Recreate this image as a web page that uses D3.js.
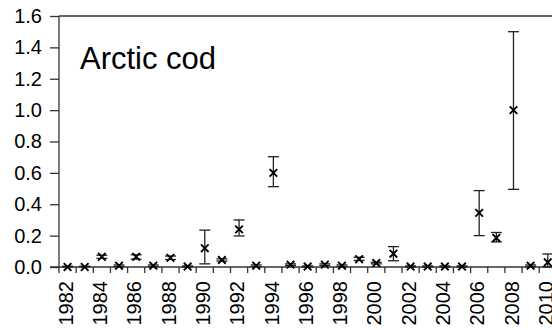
<!DOCTYPE html>
<html><head><meta charset="utf-8">
<script src="https://cdn.jsdelivr.net/npm/d3@7"></script>
<style>body{margin:0;background:#fff}svg{display:block}</style>
</head><body>
<svg id="c" width="552" height="330"></svg>
<script>
const years = d3.range(1982, 2011);
const values = [0, 0, 0.065, 0.008, 0.065, 0.008, 0.058, 0.003, 0.12, 0.045, 0.24, 0.008, 0.60, 0.015, 0.003, 0.015, 0.008, 0.05, 0.025, 0.085, 0.003, 0.003, 0.003, 0.003, 0.345, 0.185, 1.0, 0.008, 0.03];
const lower  = [0, 0, 0.055, 0.003, 0.05, 0.003, 0.048, 0, 0.02, 0.038, 0.198, 0.003, 0.512, 0.01, 0, 0.01, 0.003, 0.042, 0.02, 0.04, 0, 0, 0, 0, 0.2, 0.16, 0.495, 0.003, 0.0];
const upper  = [0.005, 0.005, 0.075, 0.013, 0.078, 0.013, 0.07, 0.007, 0.235, 0.052, 0.30, 0.013, 0.703, 0.02, 0.007, 0.02, 0.013, 0.062, 0.03, 0.13, 0.007, 0.007, 0.007, 0.007, 0.487, 0.22, 1.5, 0.013, 0.083];
const yTicks = [0, 0.2, 0.4, 0.6, 0.8, 1.0, 1.2, 1.4, 1.6];
const title = "Arctic cod";

const svg = d3.select("#c");
const font = "'Liberation Sans', Arial, Helvetica, sans-serif";
const axisColor = "#333";

const mLeft = 59, mTop = 16, mBottom = 267;
const bw = 17.15;
const x = d3.scaleBand().domain(years).range([mLeft, mLeft + years.length * bw]).padding(0);
const y = d3.scaleLinear().domain([0, 1.6]).range([mBottom, mTop]);

// y axis
const yAxis = d3.axisLeft(y).tickValues(yTicks).tickFormat(d3.format(".1f")).tickSize(9).tickPadding(8);
const gy = svg.append("g").attr("transform", `translate(${mLeft},0)`).call(yAxis);
gy.select(".domain").attr("stroke", axisColor).attr("stroke-width", 1.3).attr("d", `M0,${mTop}V${mBottom + 6}`);
gy.selectAll(".tick line").attr("stroke", axisColor).attr("stroke-width", 1.3);
gy.selectAll(".tick text").attr("font-family", font).attr("font-size", 20).attr("fill", "#000");

// top frame line
svg.append("line").attr("x1", mLeft).attr("x2", 552).attr("y1", y(1.6)).attr("y2", y(1.6))
  .attr("stroke", axisColor).attr("stroke-width", 1.3);

// x axis line
svg.append("line").attr("x1", mLeft - 9).attr("x2", 552).attr("y1", mBottom).attr("y2", mBottom)
  .attr("stroke", axisColor).attr("stroke-width", 1.3);

// x ticks at band boundaries
svg.append("g").selectAll("line").data(years.slice(1)).join("line")
  .attr("x1", d => x(d)).attr("x2", d => x(d))
  .attr("y1", mBottom).attr("y2", mBottom + 6)
  .attr("stroke", axisColor).attr("stroke-width", 1.3);

// x labels (every other year)
svg.append("g").selectAll("text").data(years.filter(d => d % 2 === 0)).join("text")
  .attr("transform", d => `translate(${x(d) + x.bandwidth() / 2 - 2},${mBottom + 14}) rotate(-90)`)
  .attr("text-anchor", "end").attr("dy", "0.36em")
  .attr("font-family", font).attr("font-size", 20).attr("fill", "#000")
  .text(d => d);

// error bars
const data = years.map((yr, i) => ({yr, v: values[i], lo: lower[i], hi: upper[i]}));
const cx = d => x(d.yr) + x.bandwidth() / 2;
const cap = 5.5;
const eb = svg.append("g").attr("stroke", "#222").attr("stroke-width", 1.3);
eb.selectAll(".v").data(data).join("line").attr("class", "v")
  .attr("x1", cx).attr("x2", cx).attr("y1", d => y(d.lo)).attr("y2", d => y(d.hi));
eb.selectAll(".t").data(data).join("line").attr("class", "t")
  .attr("x1", d => cx(d) - cap).attr("x2", d => cx(d) + cap).attr("y1", d => y(d.hi)).attr("y2", d => y(d.hi));
eb.selectAll(".b").data(data).join("line").attr("class", "b")
  .attr("x1", d => cx(d) - cap).attr("x2", d => cx(d) + cap).attr("y1", d => y(d.lo)).attr("y2", d => y(d.lo));

// x markers
const m = 3.8;
svg.append("g").selectAll("path").data(data).join("path")
  .attr("d", d => { const a = cx(d), b = y(d.v); return `M${a-m},${b-m}L${a+m},${b+m}M${a-m},${b+m}L${a+m},${b-m}`; })
  .attr("stroke", "#000").attr("stroke-width", 1.9).attr("fill", "none");

// title
svg.append("text").attr("x", 80).attr("y", 69).attr("font-family", font).attr("font-size", 31)
  .attr("fill", "#000").text(title);
</script>
</body></html>
